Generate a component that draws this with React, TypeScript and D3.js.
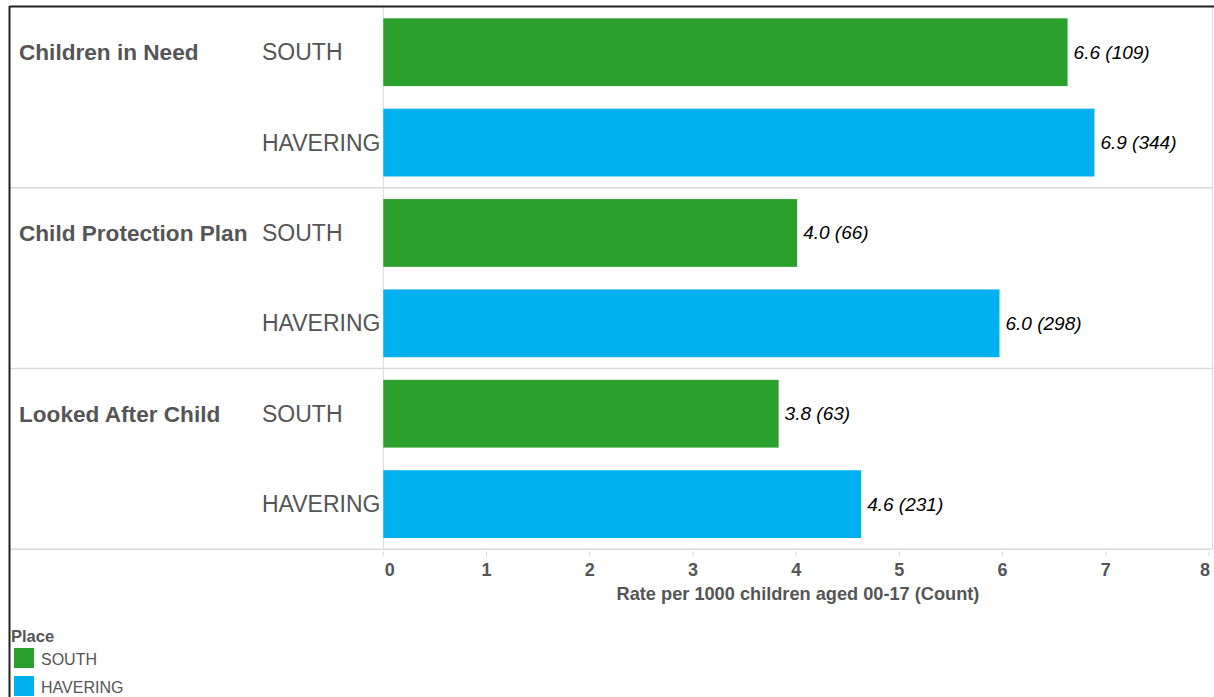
import React from "react";
import * as d3 from "d3";

const categories = ["Children in Need", "Child Protection Plan", "Looked After Child"];
const places = ["SOUTH", "HAVERING"];
const southValues = [6.63, 4.01, 3.83];
const southCounts = [109, 66, 63];
const haveringValues = [6.89, 5.97, 4.63];
const haveringCounts = [344, 298, 231];
const tickValues = [0, 1, 2, 3, 4, 5, 6, 7, 8];
const placeColors = ["#2CA02C", "#00B0F0"];

const W = 1214;
const H = 697;
const FONT = "'Liberation Sans', Arial, sans-serif";
const GRAY = "#555555";
const GRID = "#d9d9d9";

export default function App() {
  const plotLeft = 383.3;
  const plotRight = 1212;
  const top = 7;
  const bottom = 549.3;

  const x = d3.scaleLinear().domain([0, 8]).range([plotLeft, 1209]);
  const yCat = d3.scaleBand<string>().domain(categories).range([top, bottom]).padding(0);
  const ySub = d3.scaleBand<string>().domain(places).range([0, yCat.bandwidth()]).paddingInner(0.25).paddingOuter(0.125);

  const rows = categories.map((c, i) => ({
    cat: c,
    bars: [
      { place: places[0], v: southValues[i], n: southCounts[i], color: placeColors[0] },
      { place: places[1], v: haveringValues[i], n: haveringCounts[i], color: placeColors[1] },
    ],
  }));

  return (
    <svg width={W} height={H} style={{ position: "absolute", left: 0, top: 0, display: "block" }} fontFamily={FONT}>
      <rect x={0} y={0} width={W} height={H} fill="#fff" />
      {categories.map((c, i) => (
        <line key={"sep" + i} x1={10} x2={plotRight} y1={(yCat(c) as number) + yCat.bandwidth()} y2={(yCat(c) as number) + yCat.bandwidth()} stroke={GRID} strokeWidth={1.5} />
      ))}
      <line x1={plotLeft} x2={plotLeft} y1={top} y2={bottom} stroke={GRID} strokeWidth={1} />
      <line x1={plotRight + 0.5} x2={plotRight + 0.5} y1={top} y2={bottom} stroke={GRID} strokeWidth={1} />
      {tickValues.map((t, i) => (
        <g key={"t" + t}>
          <line x1={x(t)} x2={x(t)} y1={bottom + 2} y2={bottom + 7} stroke={GRID} strokeWidth={1} />
          <text
            x={i === 0 ? x(t) + 6.5 : i === tickValues.length - 1 ? x(t) - 4 : x(t)}
            y={576}
            textAnchor="middle"
            fontSize={18}
            fontWeight="bold"
            fill={GRAY}
          >
            {t}
          </text>
        </g>
      ))}
      <text x={798} y={600} textAnchor="middle" fontSize={18.2} fontWeight="bold" fill={GRAY}>
        Rate per 1000 children aged 00-17 (Count)
      </text>
      {rows.map((r) => {
        const y0 = yCat(r.cat) as number;
        return (
          <g key={r.cat}>
            <text x={19} y={y0 + (ySub(places[0]) as number) + ySub.bandwidth() / 2 + 8} fontSize={22.6} fontWeight="bold" fill={GRAY}>
              {r.cat}
            </text>
            {r.bars.map((b) => {
              const by = y0 + (ySub(b.place) as number);
              return (
                <g key={b.place}>
                  <text x={262} y={by + ySub.bandwidth() / 2 + 8} fontSize={23} fill={GRAY}>
                    {b.place}
                  </text>
                  <rect x={x(0)} y={by} width={x(b.v) - x(0)} height={ySub.bandwidth()} fill={b.color} />
                  <text x={x(b.v) + 6} y={by + ySub.bandwidth() / 2 + 6.5} fontSize={19} fontStyle="italic" fill="#000">
                    {b.v.toFixed(1)} ({b.n})
                  </text>
                </g>
              );
            })}
          </g>
        );
      })}
      <line x1={9.5} x2={W} y1={6.5} y2={6.5} stroke="#222" strokeWidth={2} />
      <line x1={9.5} x2={9.5} y1={6} y2={H} stroke="#222" strokeWidth={2} />
      <text x={11} y={642} fontSize={16.5} fontWeight="bold" fill={GRAY}>Place</text>
      {places.map((p, i) => (
        <g key={"lg" + p}>
          <rect x={14} y={648 + i * 28} width={20} height={20} fill={placeColors[i]} />
          <text x={41} y={665 + i * 27.5} fontSize={16} fill={GRAY}>{p}</text>
        </g>
      ))}
    </svg>
  );
}
